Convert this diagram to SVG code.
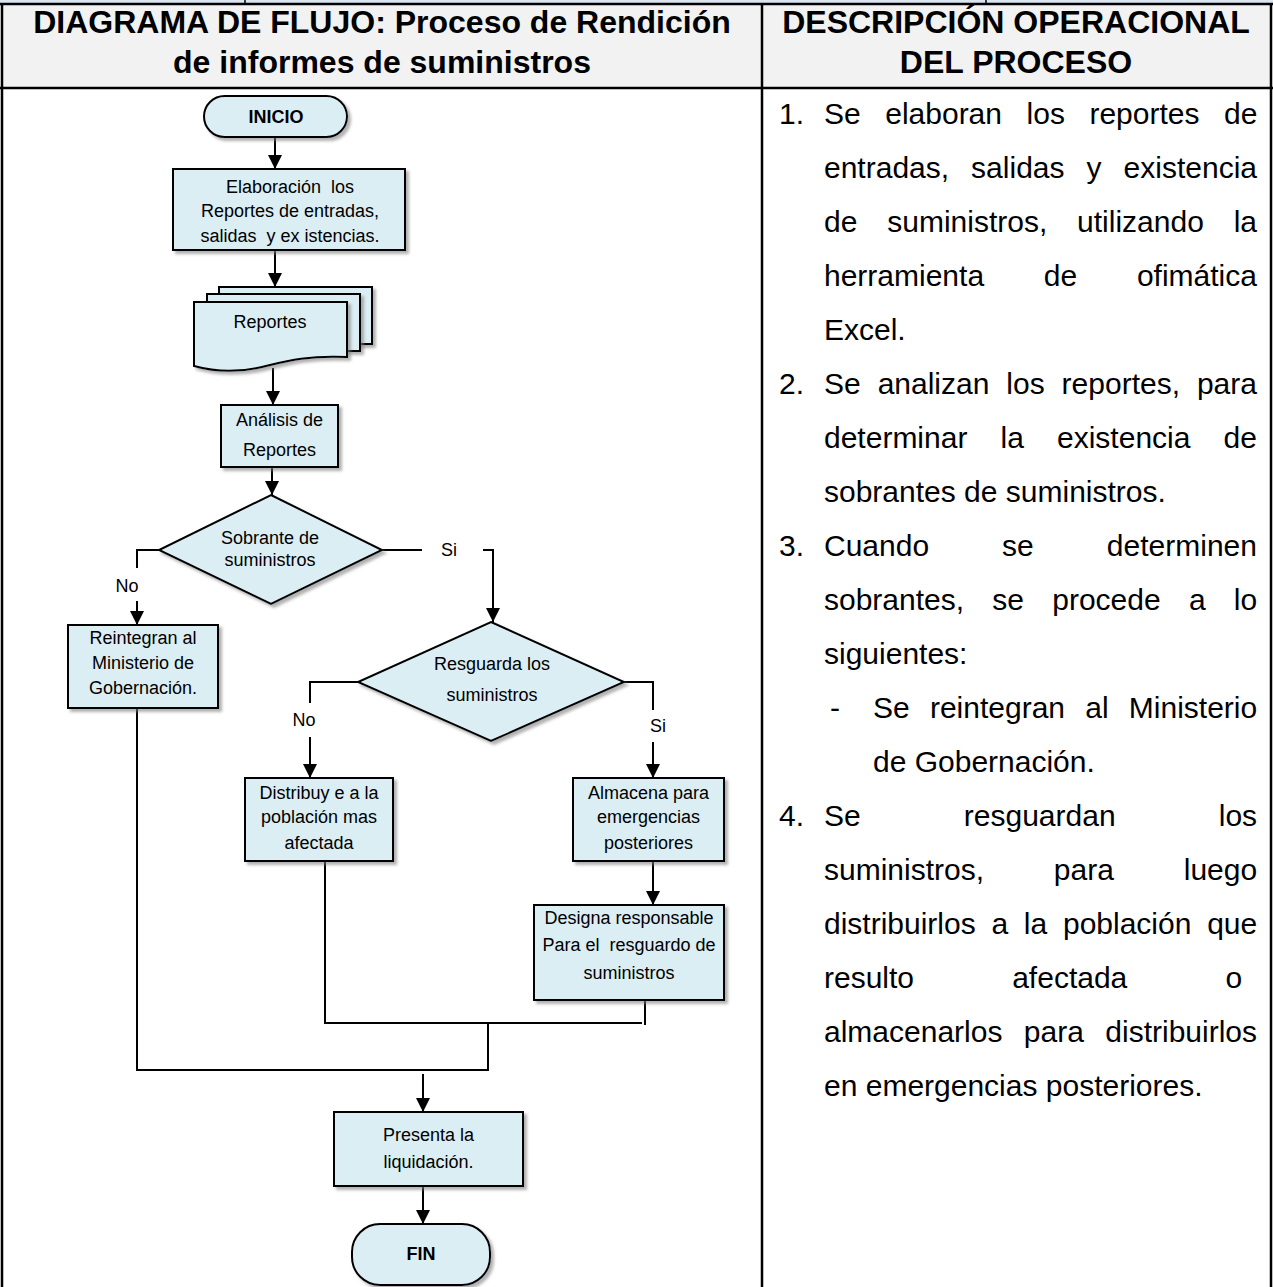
<svg xmlns="http://www.w3.org/2000/svg" width="1273" height="1287" viewBox="0 0 1273 1287">
  <style>
    .hdr { font-family: "Liberation Sans", Arial, sans-serif; font-weight: bold; font-size: 32px; fill: #000; text-anchor: middle; }
    .body { font-family: "Liberation Sans", Arial, sans-serif; font-size: 30px; fill: #000; white-space: pre; }
    .lbl { font-family: "Liberation Sans", Arial, sans-serif; font-size: 18px; fill: #000; text-anchor: middle; white-space: pre; }
    .term { font-family: "Liberation Sans", Arial, sans-serif; font-size: 18px; font-weight: bold; fill: #000; text-anchor: middle; }
    .shape { fill: #dbeef4; stroke: #000; stroke-width: 2; filter: url(#shadow); }
    .conn { fill: none; stroke: #000; stroke-width: 2; }
    .grid { stroke: #000; stroke-width: 2.5; fill: none; }
  </style>
  <defs>
    <filter id="shadow" x="-10%" y="-10%" width="130%" height="130%">
      <feDropShadow dx="3" dy="3" stdDeviation="1.5" flood-color="#7f7f7f" flood-opacity="0.6"/>
    </filter>
    <marker id="arrow" markerWidth="14" markerHeight="16" refX="14" refY="7" orient="auto" markerUnits="userSpaceOnUse">
      <path d="M0,0 L14,7 L0,14 Z" fill="#000"/>
    </marker>
  </defs>

  <!-- table frame -->
  <g id="table">
    <rect x="0" y="0" width="1273" height="4" fill="#dbe5f1"/>
    <line x1="245" y1="0" x2="245" y2="4" stroke="#000" stroke-width="1.5"/>
    <line x1="986" y1="0" x2="986" y2="4" stroke="#000" stroke-width="1.5"/>
    <rect x="2" y="4" width="1269" height="84" fill="#f2f2f2"/>
    <line class="grid" x1="0" y1="4" x2="1273" y2="4"/>
    <line class="grid" x1="0" y1="88" x2="1273" y2="88"/>
    <line class="grid" x1="2" y1="4" x2="2" y2="1287"/>
    <line class="grid" x1="762" y1="4" x2="762" y2="1287"/>
    <line class="grid" x1="1271" y1="4" x2="1271" y2="1287"/>
    <text class="hdr" x="382" y="33">DIAGRAMA DE FLUJO: Proceso de Rendición</text>
    <text class="hdr" x="382" y="73">de informes de suministros</text>
    <text class="hdr" x="1016" y="33">DESCRIPCIÓN OPERACIONAL</text>
    <text class="hdr" x="1016" y="73">DEL PROCESO</text>
  </g>

  <!-- connectors -->
  <g id="connectors">
    <path class="conn" d="M275,137 V169" marker-end="url(#arrow)"/>
    <path class="conn" d="M275,250 V287" marker-end="url(#arrow)"/>
    <path class="conn" d="M273,368 V405" marker-end="url(#arrow)"/>
    <path class="conn" d="M272,467 V495" marker-end="url(#arrow)"/>
    <path class="conn" d="M159,550 H137 V568"/>
    <path class="conn" d="M137,601 V625" marker-end="url(#arrow)"/>
    <path class="conn" d="M382,550 H422"/>
    <path class="conn" d="M483,550 H493 V622" marker-end="url(#arrow)"/>
    <path class="conn" d="M358,682 H310 V703"/>
    <path class="conn" d="M310,737 V778" marker-end="url(#arrow)"/>
    <path class="conn" d="M624,682 H653 V710"/>
    <path class="conn" d="M653,742 V778" marker-end="url(#arrow)"/>
    <path class="conn" d="M653,861 V905" marker-end="url(#arrow)"/>
    <path class="conn" d="M137,708 V1070 H488 V1023"/>
    <path class="conn" d="M325,861 V1023 H642"/>
    <path class="conn" d="M645,1000 V1025"/>
    <path class="conn" d="M423,1074 V1112" marker-end="url(#arrow)"/>
    <path class="conn" d="M423,1186 V1224" marker-end="url(#arrow)"/>
    <text class="lbl" x="127" y="592">No</text>
    <text class="lbl" x="449" y="556">Si</text>
    <text class="lbl" x="304" y="726">No</text>
    <text class="lbl" x="658" y="732">Si</text>
  </g>

  <!-- flowchart nodes -->
  <g id="inicio">
    <rect class="shape" x="204" y="96" width="143" height="41" rx="20.5" ry="20.5"/>
    <text class="term" x="276" y="123">INICIO</text>
  </g>
  <g id="elaboracion">
    <rect class="shape" x="173" y="169" width="232" height="81"/>
    <text class="lbl" x="290" y="193">Elaboración  los</text>
    <text class="lbl" x="290" y="217">Reportes de entradas,</text>
    <text class="lbl" x="290" y="242">salidas  y ex istencias.</text>
  </g>
  <g id="reportes">
    <rect class="shape" x="219" y="287" width="153" height="57"/>
    <rect class="shape" x="207" y="294" width="153" height="57"/>
    <path class="shape" d="M194,302 H347 V357 C305,355 283,362 262,367 C236,373 212,371 194,366 Z"/>
    <text class="lbl" x="270" y="328">Reportes</text>
  </g>
  <g id="analisis">
    <rect class="shape" x="221" y="405" width="117" height="62"/>
    <text class="lbl" x="279.5" y="426">Análisis de</text>
    <text class="lbl" x="279.5" y="456">Reportes</text>
  </g>
  <g id="sobrante">
    <polygon class="shape" points="271,495 382,550 271,604 159,550"/>
    <text class="lbl" x="270" y="544">Sobrante de</text>
    <text class="lbl" x="270" y="566">suministros</text>
  </g>
  <g id="reintegran">
    <rect class="shape" x="68" y="625" width="150" height="83"/>
    <text class="lbl" x="143" y="644">Reintegran al</text>
    <text class="lbl" x="143" y="669">Ministerio de</text>
    <text class="lbl" x="143" y="694">Gobernación.</text>
  </g>
  <g id="resguarda">
    <polygon class="shape" points="491,622 624,682 491,741 358,682"/>
    <text class="lbl" x="492" y="670">Resguarda los</text>
    <text class="lbl" x="492" y="701">suministros</text>
  </g>
  <g id="distribuye">
    <rect class="shape" x="245" y="778" width="148" height="83"/>
    <text class="lbl" x="319" y="799">Distribuy e a la</text>
    <text class="lbl" x="319" y="823">población mas</text>
    <text class="lbl" x="319" y="849">afectada</text>
  </g>
  <g id="almacena">
    <rect class="shape" x="573" y="778" width="151" height="83"/>
    <text class="lbl" x="648.5" y="799">Almacena para</text>
    <text class="lbl" x="648.5" y="823">emergencias</text>
    <text class="lbl" x="648.5" y="849">posteriores</text>
  </g>
  <g id="designa">
    <rect class="shape" x="534" y="905" width="190" height="95"/>
    <text class="lbl" x="629" y="924">Designa responsable</text>
    <text class="lbl" x="629" y="951">Para el  resguardo de</text>
    <text class="lbl" x="629" y="979">suministros</text>
  </g>
  <g id="presenta">
    <rect class="shape" x="334" y="1112" width="189" height="74"/>
    <text class="lbl" x="428.5" y="1141">Presenta la</text>
    <text class="lbl" x="428.5" y="1168">liquidación.</text>
  </g>
  <g id="fin">
    <rect class="shape" x="352" y="1224" width="138" height="61" rx="28" ry="28"/>
    <text class="term" x="421" y="1260">FIN</text>
  </g>

  <!-- process description -->
  <g id="descripcion">
    <text class="body" x="779" y="124">1.</text>
    <text class="body" x="824" y="124" word-spacing="16.2">Se elaboran los reportes de</text>
    <text class="body" x="824" y="178" word-spacing="13.7">entradas, salidas y existencia</text>
    <text class="body" x="824" y="232" word-spacing="21.5">de suministros, utilizando la</text>
    <text class="body" x="824" y="286" word-spacing="51.4">herramienta de ofimática</text>
    <text class="body" x="824" y="340">Excel.</text>
    <text class="body" x="779" y="394">2.</text>
    <text class="body" x="824" y="394" word-spacing="8.6">Se analizan los reportes, para</text>
    <text class="body" x="824" y="448" word-spacing="24.8">determinar la existencia de</text>
    <text class="body" x="824" y="502">sobrantes de suministros.</text>
    <text class="body" x="779" y="556">3.</text>
    <text class="body" x="824" y="556" word-spacing="64.7">Cuando se determinen</text>
    <text class="body" x="824" y="610" word-spacing="19.9">sobrantes, se procede a lo</text>
    <text class="body" x="824" y="664">siguientes:</text>
    <text class="body" x="830" y="718">-</text>
    <text class="body" x="873" y="718" word-spacing="11.9">Se reintegran al Ministerio</text>
    <text class="body" x="873" y="772">de Gobernación.</text>
    <text class="body" x="779" y="826">4.</text>
    <text class="body" x="824" y="826" word-spacing="94.8">Se resguardan los</text>
    <text class="body" x="824" y="880" word-spacing="61.5">suministros, para luego</text>
    <text class="body" x="824" y="934" word-spacing="7.4">distribuirlos a la población que</text>
    <text class="body" x="824" y="988" word-spacing="89.8">resulto afectada o</text>
    <text class="body" x="824" y="1042" word-spacing="13.1">almacenarlos para distribuirlos</text>
    <text class="body" x="824" y="1096">en emergencias posteriores.</text>
  </g>
</svg>
